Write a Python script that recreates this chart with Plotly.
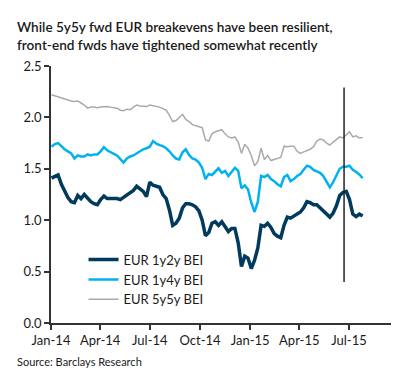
import pandas as pd
import plotly.graph_objects as go

# dates every 6 days from 2014-01-02
dates = pd.date_range("2014-01-02", periods=96, freq="6D")

eur_1y2y = [1.41, 1.43, 1.44, 1.35, 1.29, 1.22, 1.18, 1.17, 1.24, 1.21,
            1.25, 1.21, 1.18, 1.16, 1.15, 1.20, 1.235, 1.21, 1.21, 1.21,
            1.21, 1.20, 1.22, 1.25, 1.27, 1.29, 1.33, 1.30, 1.28, 1.23,
            1.37, 1.34, 1.33, 1.32, 1.25, 1.21, 1.10, 0.95, 0.97, 1.02,
            1.12, 1.16, 1.16, 1.15, 1.13, 1.09, 1.00, 0.85, 0.88, 0.97,
            0.985, 0.95, 0.985, 0.94, 0.89, 0.92, 0.92, 0.78, 0.55, 0.65,
            0.63, 0.53, 0.61, 0.73, 0.95, 0.94, 0.97, 0.93, 0.87, 0.845,
            0.83, 0.95, 1.03, 1.02, 1.04, 1.05, 1.08, 1.12, 1.18, 1.17,
            1.15, 1.15, 1.12, 1.09, 1.06, 1.03, 1.07, 1.14, 1.24, 1.27,
            1.28, 1.20, 1.06, 1.035, 1.06, 1.04]

eur_1y4y = [1.715, 1.74, 1.75, 1.72, 1.69, 1.67, 1.65, 1.60, 1.63, 1.62,
            1.62, 1.64, 1.63, 1.64, 1.64, 1.67, 1.71, 1.68, 1.66, 1.645,
            1.63, 1.59, 1.56, 1.60, 1.62, 1.63, 1.65, 1.675, 1.69, 1.70,
            1.715, 1.77, 1.745, 1.73, 1.72, 1.70, 1.67, 1.63, 1.60, 1.59,
            1.66, 1.69, 1.635, 1.60, 1.59, 1.56, 1.51, 1.40, 1.45, 1.44,
            1.47, 1.505, 1.46, 1.48, 1.43, 1.47, 1.51, 1.48, 1.31, 1.34,
            1.30, 1.17, 1.08, 1.18, 1.43, 1.42, 1.44, 1.40, 1.38, 1.35,
            1.33, 1.42, 1.44, 1.38, 1.40, 1.43, 1.45, 1.49, 1.53, 1.52,
            1.49, 1.475, 1.46, 1.43, 1.37, 1.32, 1.37, 1.43, 1.50, 1.52,
            1.52, 1.53, 1.49, 1.47, 1.445, 1.41]

eur_5y5y = [2.22, 2.21, 2.20, 2.19, 2.175, 2.17, 2.16, 2.155, 2.16, 2.14,
            2.12, 2.09, 2.10, 2.10, 2.095, 2.10, 2.105, 2.105, 2.10, 2.095,
            2.09, 2.07, 2.065, 2.08, 2.075, 2.10, 2.12, 2.11, 2.105, 2.105,
            2.12, 2.115, 2.105, 2.10, 2.085, 2.07, 2.02, 1.96, 1.97, 2.00,
            2.03, 1.98, 1.96, 1.93, 1.92, 1.91, 1.90, 1.78, 1.77, 1.84,
            1.86, 1.87, 1.88, 1.84, 1.81, 1.80, 1.81, 1.76, 1.65, 1.74,
            1.70, 1.63, 1.53, 1.57, 1.70, 1.59, 1.63, 1.58, 1.59, 1.60,
            1.61, 1.72, 1.715, 1.72, 1.72, 1.67, 1.65, 1.665, 1.68, 1.69,
            1.715, 1.77, 1.79, 1.78, 1.75, 1.73, 1.76, 1.79, 1.81, 1.80,
            1.83, 1.86, 1.81, 1.82, 1.80, 1.805]

marker_date = "2015-06-22"
marker_y = [0.40, 2.29]

title_text = ("While 5y5y fwd EUR breakevens have been resilient,<br>"
              "front-end fwds have tightened somewhat recently")
source_text = "Source: Barclays Research"

FONT = "Lato"
TXT = "#1a1a1a"

fig = go.Figure()
fig.add_trace(go.Scatter(x=dates, y=eur_1y2y, mode="lines", name="EUR 1y2y BEI",
                         line=dict(color="#003A5D", width=3.5)))
fig.add_trace(go.Scatter(x=dates, y=eur_1y4y, mode="lines", name="EUR 1y4y BEI",
                         line=dict(color="#00B2EE", width=2.5)))
fig.add_trace(go.Scatter(x=dates, y=eur_5y5y, mode="lines", name="EUR 5y5y BEI",
                         line=dict(color="#AAAAAA", width=1.5)))

fig.add_shape(type="line", xref="x", yref="y",
              x0=marker_date, x1=marker_date, y0=marker_y[0], y1=marker_y[1],
              line=dict(color="#222222", width=1.5))

fig.add_annotation(text=title_text, xref="paper", yref="paper",
                   x=-0.104, y=1.19, xanchor="left", yanchor="top",
                   align="left", showarrow=False,
                   font=dict(family=FONT, size=13.6, color=TXT, weight=600))
fig.add_annotation(text=source_text, xref="paper", yref="paper",
                   x=-0.104, y=-0.148, xanchor="left", yanchor="middle",
                   showarrow=False, font=dict(family=FONT, size=11, color=TXT))

fig.update_layout(
    width=391, height=373,
    margin=dict(l=43, r=2, t=58, b=58),
    paper_bgcolor="white", plot_bgcolor="white",
    font=dict(family=FONT, size=13, color=TXT),
    showlegend=True,
    legend=dict(x=0.094, y=0.305, xanchor="left", yanchor="top",
                bgcolor="rgba(0,0,0,0)", font=dict(family=FONT, size=13, color=TXT),
                tracegroupgap=0, itemwidth=30),
    xaxis=dict(type="date", range=["2014-01-01", "2015-09-27"],
               tick0="2014-01-01", dtick="M3", tickformat="%b-%y",
               showgrid=False, zeroline=False,
               showline=True, linecolor="#333333", linewidth=1.5,
               ticks="outside", ticklen=5, tickcolor="#333333", tickwidth=1.5,
               tickfont=dict(family=FONT, size=13, color=TXT)),
    yaxis=dict(range=[0, 2.5], dtick=0.5, tickformat=".1f",
               showgrid=False, zeroline=False,
               showline=True, linecolor="#333333", linewidth=1.5,
               ticks="outside", ticklen=5, tickcolor="#333333", tickwidth=1.5,
               tickfont=dict(family=FONT, size=13, color=TXT)),
)

fig.write_html("out.html")
